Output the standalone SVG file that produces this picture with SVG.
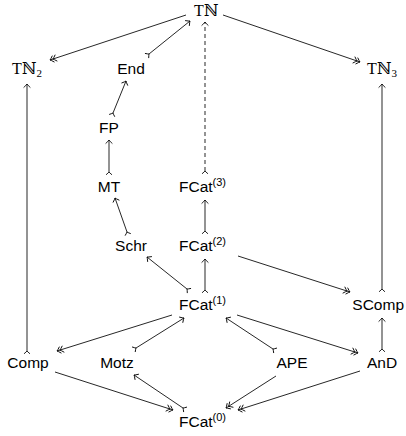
<svg xmlns="http://www.w3.org/2000/svg" width="406" height="436" viewBox="0 0 406 436">
<style>
.t{font-family:"Liberation Sans",Arial,sans-serif;font-size:15.5px;fill:#000}
.m{font-family:"Liberation Serif","DejaVu Serif",serif;font-size:16px;fill:#000}
.c{text-anchor:middle}
.e{fill:none;stroke:#000;stroke-width:0.85}
.d{stroke-dasharray:4 3}
</style>
<defs>
<marker id="h" markerUnits="userSpaceOnUse" markerWidth="12" markerHeight="12" viewBox="-6 -6 12 12" refX="0" refY="0" orient="auto">
<path d="M-3.6,-3.4 Q-1,-0.6 0,0 Q-1,0.6 -3.6,3.4" fill="none" stroke="#000" stroke-width="0.85"/>
</marker>
<marker id="hh" markerUnits="userSpaceOnUse" markerWidth="14" markerHeight="12" viewBox="-8 -6 14 12" refX="0" refY="0" orient="auto">
<path d="M-3.6,-3.4 Q-1,-0.6 0,0 Q-1,0.6 -3.6,3.4 M-6.6,-3.4 Q-4,-0.6 -3,0 Q-4,0.6 -6.6,3.4" fill="none" stroke="#000" stroke-width="0.85"/>
</marker>
<marker id="tl" markerUnits="userSpaceOnUse" markerWidth="12" markerHeight="12" viewBox="-6 -6 12 12" refX="0" refY="0" orient="auto">
<path d="M-2.8,-3 Q-0.6,-0.4 0,0 Q-0.6,0.4 -2.8,3" fill="none" stroke="#000" stroke-width="0.85"/>
</marker>
</defs>

<g id="connectors">
<path class="e" d="M186,15 L50,60" marker-end="url(#hh)"/>
<path class="e" d="M149,54 L190,21" marker-start="url(#tl)" marker-end="url(#h)"/>
<path class="e d" d="M205,171 L205,22" marker-start="url(#tl)" marker-end="url(#h)"/>
<path class="e" d="M223,15 L360,62" marker-end="url(#hh)"/>
<path class="e" d="M113,113 L126,81" marker-start="url(#tl)" marker-end="url(#h)"/>
<path class="e" d="M109,172 L109,140" marker-start="url(#tl)" marker-end="url(#h)"/>
<path class="e" d="M127,232 L115,198" marker-start="url(#tl)" marker-end="url(#h)"/>
<path class="e" d="M205,231 L205,200" marker-start="url(#tl)" marker-end="url(#h)"/>
<path class="e" d="M205,290 L205,259" marker-start="url(#tl)" marker-end="url(#h)"/>
<path class="e" d="M187,289 L147,257" marker-start="url(#tl)" marker-end="url(#h)"/>
<path class="e" d="M238,256 L350,292" marker-end="url(#hh)"/>
<path class="e" d="M382,289 L382,84" marker-start="url(#tl)" marker-end="url(#h)"/>
<path class="e" d="M27,351 L27,84" marker-start="url(#tl)" marker-end="url(#h)"/>
<path class="e" d="M172,315 L57,351" marker-end="url(#hh)"/>
<path class="e" d="M136,348 L184,318" marker-start="url(#tl)" marker-end="url(#h)"/>
<path class="e" d="M273,349 L226,318" marker-start="url(#tl)" marker-end="url(#h)"/>
<path class="e" d="M237,315 L358,353" marker-end="url(#hh)"/>
<path class="e" d="M382,349 L382,318" marker-start="url(#tl)" marker-end="url(#h)"/>
<path class="e" d="M55,372 L173,410" marker-end="url(#hh)"/>
<path class="e" d="M183,408 L134,375" marker-start="url(#tl)" marker-end="url(#h)"/>
<path class="e" d="M276,376 L226,408" marker-end="url(#hh)"/>
<path class="e" d="M360,371 L238,410" marker-end="url(#hh)"/>
</g>

<g id="TN"><text class="m" x="194" y="16">Tℕ</text></g>
<g id="TN2"><text class="m" x="12" y="74">Tℕ<tspan font-size="11" dy="3">2</tspan></text></g>
<g id="End"><text class="t c" x="131" y="74">End</text></g>
<g id="TN3"><text class="m" x="367" y="74">Tℕ<tspan font-size="11" dy="3">3</tspan></text></g>
<g id="FP"><text class="t c" x="109" y="133">FP</text></g>
<g id="MT"><text class="t c" x="109" y="192">MT</text></g>
<g id="FCat3"><text class="t" x="179" y="192">FCat<tspan font-size="11" dy="-6">(3)</tspan></text></g>
<g id="Schr"><text class="t c" x="131" y="251">Schr</text></g>
<g id="FCat2"><text class="t" x="179" y="251">FCat<tspan font-size="11" dy="-6">(2)</tspan></text></g>
<g id="FCat1"><text class="t" x="179" y="310">FCat<tspan font-size="11" dy="-6">(1)</tspan></text></g>
<g id="SComp"><text class="t" x="404" y="310" text-anchor="end">SComp</text></g>
<g id="Comp"><text class="t c" x="28" y="368">Comp</text></g>
<g id="Motz"><text class="t c" x="117" y="368">Motz</text></g>
<g id="APE"><text class="t c" x="292" y="368">APE</text></g>
<g id="AnD"><text class="t c" x="382" y="368">AnD</text></g>
<g id="FCat0"><text class="t" x="179" y="427">FCat<tspan font-size="11" dy="-6">(0)</tspan></text></g>
</svg>
